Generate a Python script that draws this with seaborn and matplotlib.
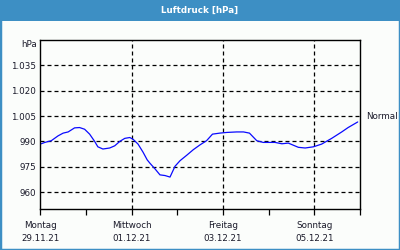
import matplotlib
matplotlib.use("Agg")
import matplotlib.pyplot as plt
import matplotlib.patches as mpatches
import seaborn as sns
import pandas as pd

# ---- data ----
days = [0.02, 0.10, 0.24, 0.39, 0.50, 0.61, 0.68, 0.75, 0.86, 0.97, 1.08, 1.19,
        1.26, 1.37, 1.52, 1.63, 1.74, 1.85, 1.96, 2.03, 2.14, 2.25, 2.34, 2.40,
        2.51, 2.62, 2.73, 2.84, 2.95, 3.06, 3.21, 3.35, 3.50, 3.64, 3.77, 3.93,
        4.08, 4.30, 4.45, 4.58, 4.74, 4.88, 5.14, 5.29, 5.43, 5.65, 5.80, 5.98,
        6.16, 6.38, 6.60, 6.74, 6.95]
pressure = [988.6, 989.4, 990.4, 993.3, 994.9, 995.6, 996.8, 998.0, 998.2, 997.2,
            994.3, 990.0, 986.8, 985.5, 986.1, 987.4, 990.0, 991.8, 992.3, 991.3,
            988.4, 983.6, 979.1, 977.1, 973.8, 970.2, 969.8, 968.9, 975.3, 978.6,
            981.9, 985.1, 988.0, 990.4, 994.3, 994.9, 995.3, 995.6, 995.6, 994.9,
            990.4, 989.4, 989.4, 988.6, 989.0, 986.5, 986.1, 986.8, 988.4, 991.8,
            995.6, 998.2, 1001.5]
ytick_values = [960, 975, 990, 1005, 1020, 1035]
ytick_labels = ["960", "975", "990", "1.005", "1.020", "1.035"]
xtick_positions = [0, 2, 4, 6]
day_names = ["Montag", "Mittwoch", "Freitag", "Sonntag"]
dates = ["29.11.21", "01.12.21", "03.12.21", "05.12.21"]
normal_value = 1005
title = "Luftdruck [hPa]"

df = pd.DataFrame({"day": days, "hPa": pressure})

sns.set_theme(style="white")
plt.rcParams["font.family"] = ["DejaVu Sans"]

BLUE_BAR = "#3d8fc4"
BG = "#fbfdfb"
TXT = "#1a1a2a"

fig = plt.figure(figsize=(4, 2.5), dpi=100, facecolor=BG)

# title bar and border
fig.patches.append(mpatches.Rectangle((0, 1 - 21 / 250), 1, 21 / 250,
                                      transform=fig.transFigure, facecolor=BLUE_BAR,
                                      edgecolor="none", zorder=0))
fig.patches.append(mpatches.Rectangle((0, 0), 1, 1, transform=fig.transFigure,
                                      facecolor="none", edgecolor=BLUE_BAR, lw=2.5, zorder=1))
fig.text(0.5, 1 - 10.5 / 250, title, ha="center", va="center", color="white",
         fontsize=6.3, fontweight="bold")

ax = fig.add_axes([40.3 / 400, (250 - 209) / 250, (360 - 40.3) / 400, (209 - 40) / 250])
ax.set_facecolor(BG)

sns.lineplot(data=df, x="day", y="hPa", ax=ax, color="#0a0aff", lw=0.9)

ax.set_xlim(0, 7)
ax.set_ylim(950, 1050)
ax.set_xlabel("")
ax.set_ylabel("")

# grid
for y in ytick_values:
    ax.axhline(y, color="black", lw=0.9, ls=(0, (3.2, 2.4)), zorder=1)
for x in xtick_positions[1:]:
    ax.axvline(x, color="black", lw=0.9, ls=(0, (3.2, 2.4)), zorder=1)

ax.set_yticks(ytick_values)
ax.set_yticklabels(ytick_labels)
ax.tick_params(axis="y", length=0, pad=3, labelsize=6.3, labelcolor=TXT)

ax.set_xticks(xtick_positions)
ax.set_xticklabels([f"{d}\n{t}" for d, t in zip(day_names, dates)],
                   linespacing=1.55)
ax.set_xticks([1, 3, 5, 7], minor=True)
ax.tick_params(axis="x", which="both", direction="out", length=4, width=0.9,
               color="black", bottom=True, labelsize=6.3, labelcolor=TXT, pad=5)

for s in ax.spines.values():
    s.set_visible(True)
    s.set_color("black")
    s.set_linewidth(1.0)

fig.text(37 / 400, 1 - 45 / 250, "hPa", ha="right", va="center", fontsize=6.3, color=TXT)
ax.text(7 + 6 / 45.67, normal_value, "Normal", ha="left", va="center",
        fontsize=6.3, color=TXT, clip_on=False)

fig.savefig("out.png", dpi=100, facecolor=BG)
